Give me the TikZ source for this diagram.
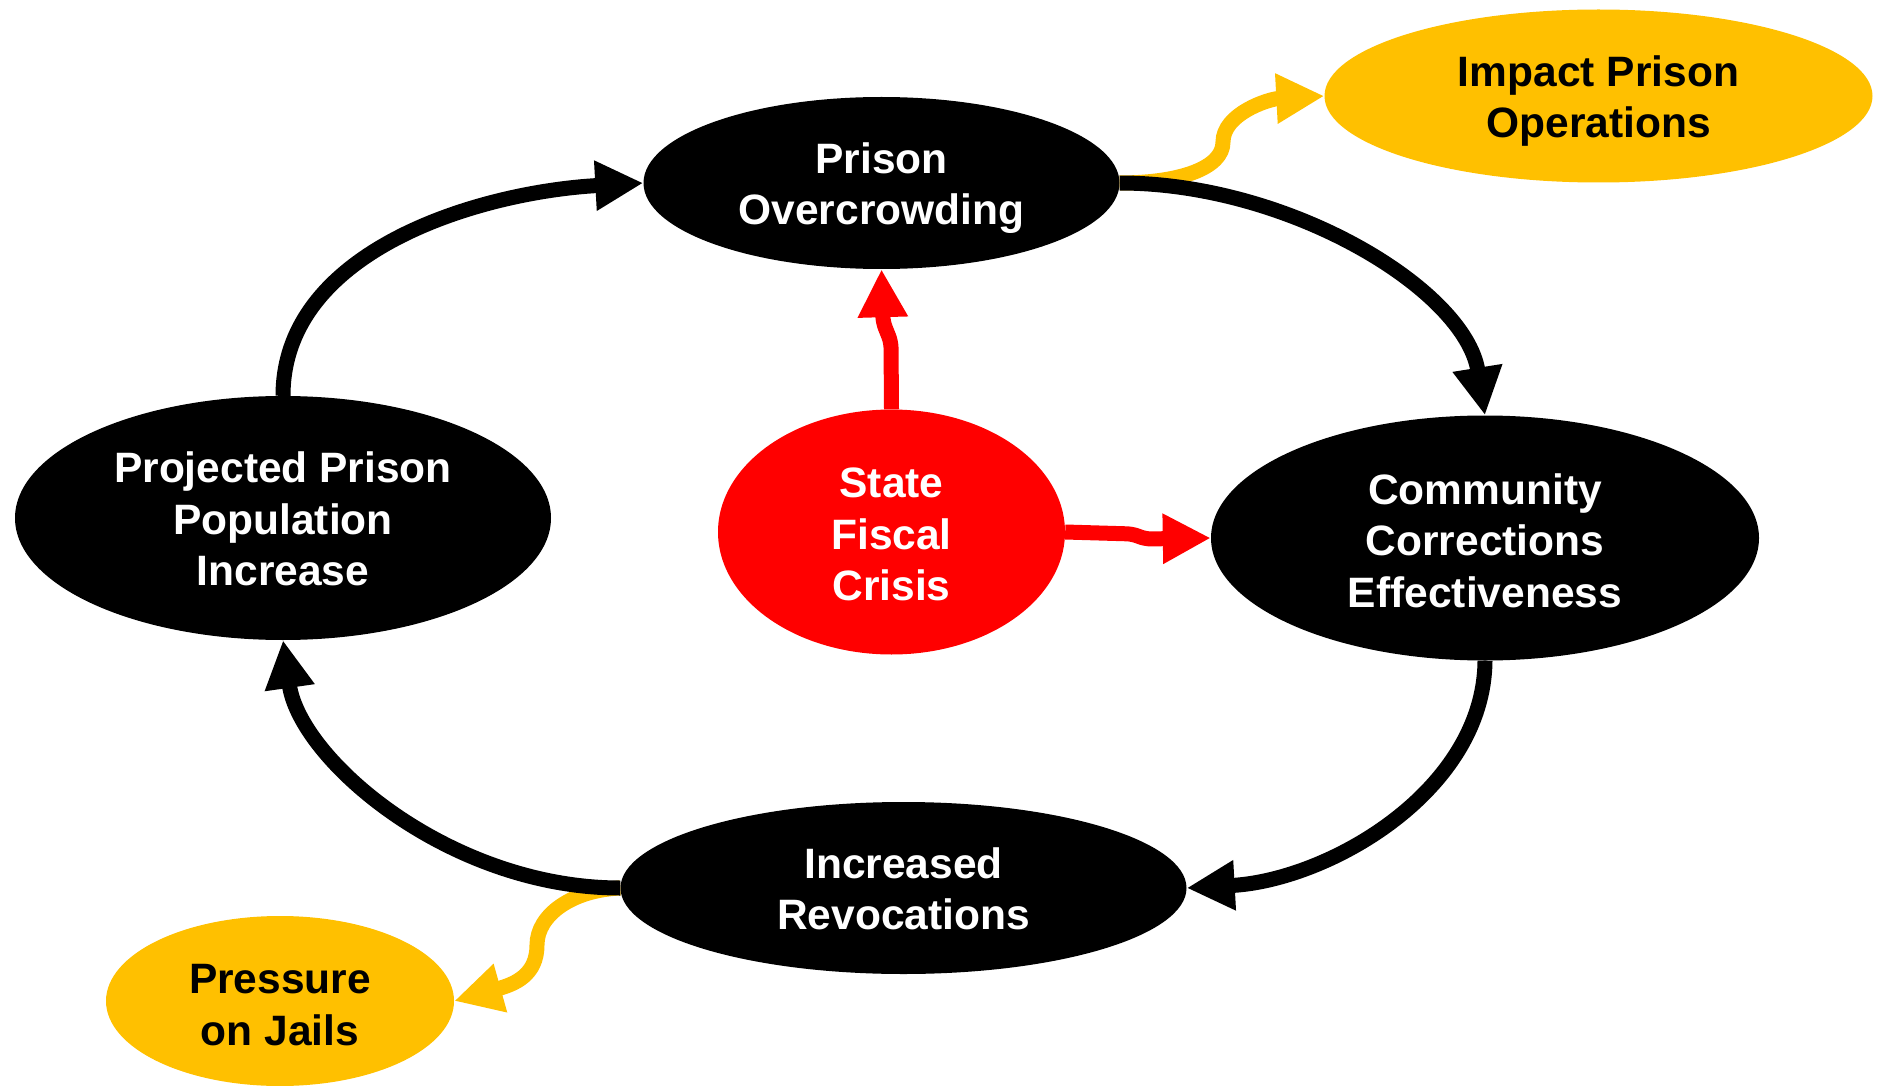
\documentclass[tikz,border=0pt]{standalone}
\usepackage{fontspec}
\setmainfont{Liberation Sans}
\usetikzlibrary{shapes.geometric,arrows.meta}
\definecolor{gold}{HTML}{FFC000}
\definecolor{redc}{HTML}{FF0000}
\begin{document}
\begin{tikzpicture}[x=1pt,y=-1pt,
  bub/.style={ellipse, inner sep=0pt},
  blk/.style={bub, fill=black},
  yelnode/.style={bub, fill=gold},
  rednode/.style={bub, fill=redc},
  txt/.style={inner sep=0pt, align=center, font=\fontsize{42.5}{51.5}\selectfont\bfseries},
  wtxt/.style={txt, text=white},
  ktxt/.style={txt, text=black},
  conn/.style={line width=15pt, -{Triangle[length=48pt,width=47pt]}},
  blkconn/.style={conn, draw=black},
  yelconn/.style={conn, draw=gold},
  redconn/.style={conn, draw=redc, rounded corners=6pt}
]
\useasboundingbox (0,0) rectangle (1883,1086);
\node[blk, minimum width=476pt, minimum height=172pt] (po) at (881.5,183) {};
\node[yelnode, minimum width=548pt, minimum height=173pt] (imp) at (1598.5,96) {};
\node[blk, minimum width=548pt, minimum height=245pt] (cce) at (1485,538) {};
\node[rednode, minimum width=347pt, minimum height=245pt] (sfc) at (891.5,532) {};
\node[blk, minimum width=536pt, minimum height=244pt] (ppi) at (283,518) {};
\node[blk, minimum width=566pt, minimum height=172pt] (ir) at (903.5,888) {};
\node[yelnode, minimum width=348pt, minimum height=170pt] (poj) at (280,1001) {};

\node[wtxt] (po-t) at ([yshift=-5pt]po.center) {Prison\\Overcrowding};
\node[ktxt] (imp-t) at ([yshift=-5pt]imp.center) {Impact Prison\\Operations};
\node[wtxt] (cce-t) at ([yshift=-2.5pt]cce.center) {Community\\Corrections\\Effectiveness};
\node[wtxt] (sfc-t) at ([yshift=-2.5pt]sfc.center) {State\\Fiscal\\Crisis};
\node[wtxt] (ppi-t) at ([yshift=-1pt]ppi.center) {Projected Prison\\Population\\Increase};
\node[wtxt] (ir-t) at ([yshift=-1pt]ir.center) {Increased\\Revocations};
\node[ktxt] (poj-t) at ([yshift=-4pt]poj.center) {Pressure\\on Jails};

% yellow side effects (drawn below black)
\draw[yelconn] (po.east) .. controls (1180,183) and (1223,168) .. (1223,142)
   .. controls (1223,114) and (1268,99) .. (imp.west);
\draw[yelconn] (ir.west) .. controls (572,890) and (537,915) .. (537,945)
   .. controls (537,975) and (515,984) .. (poj.east);

% main cycle
\draw[blkconn] (ppi.north) .. controls (283,250) and (480,192) .. (po.west);
\draw[blkconn] (po.east) .. controls (1290,183) and (1465,290) .. (cce.north);
\draw[blkconn] (cce.south) .. controls (1484,790) and (1330,880) .. (ir.east);
\draw[blkconn] (ir.west) .. controls (450,888) and (300,760) .. (ppi.south);

% red influences
\draw[redconn] (sfc.north) -- (891,342) -- (883,322) -- (po.south);
\draw[redconn] (sfc.east) -- (1133,534) -- (1145,539) -- (cce.west);
\end{tikzpicture}
\end{document}
